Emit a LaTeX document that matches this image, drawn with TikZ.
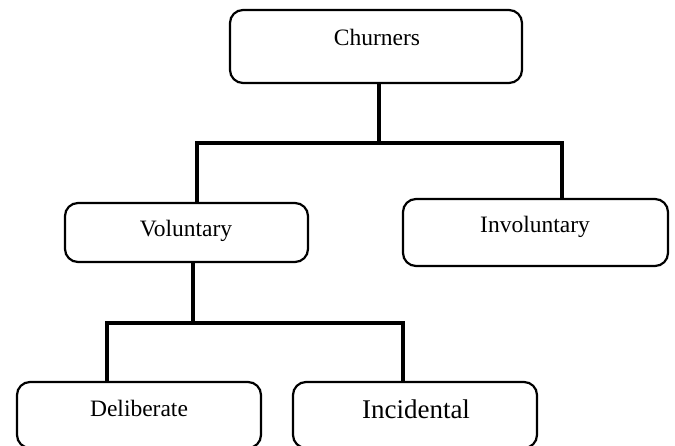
\documentclass[tikz,border=0pt]{standalone}
\usepackage{fontspec}
\setmainfont{Liberation Serif}
\begin{document}
\begin{tikzpicture}[x=1pt,y=-1pt,
  box/.style={draw=black,line width=2.2pt,rounded corners=13pt,rectangle,inner sep=0pt,fill=white},
  lbl/.style={anchor=base,inner sep=0pt,font=\fontsize{23.5}{28}\selectfont},
  conn/.style={line width=3.6pt,line join=miter}]
\useasboundingbox (0,0) rectangle (675,446);
\node[box,minimum width=292pt,minimum height=73pt] (ch) at (376,46.5) {};
\node[box,minimum width=243pt,minimum height=59pt] (vol) at (186.5,232.5) {};
\node[box,minimum width=265pt,minimum height=67pt] (inv) at (535.5,232.5) {};
\node[box,minimum width=244pt,minimum height=66pt] (del) at (139,415) {};
\node[box,minimum width=244pt,minimum height=66pt] (inc) at (415,415) {};
\node[lbl] (chT) at (377,46) {Churners};
\node[lbl] (volT) at (186,237) {Voluntary};
\node[lbl] (invT) at (535,233) {Involuntary};
\node[lbl] (delT) at (139,416) {Deliberate};
\node[lbl,font=\fontsize{27}{32}\selectfont] (incT) at (416,418) {Incidental};
\coordinate (j1) at (379,143);
\coordinate (l1) at (197,143);
\coordinate (r1) at (562,143);
\coordinate (j2) at (193,323);
\coordinate (l2) at (107,323);
\coordinate (r2) at (403,323);
\draw[conn] (ch.south -| j1) -- (j1);
\draw[conn] (vol.north -| l1) -- (l1) -- (r1) -- (inv.north -| r1);
\draw[conn] (vol.south -| j2) -- (j2);
\draw[conn] (del.north -| l2) -- (l2) -- (r2) -- (inc.north -| r2);
\end{tikzpicture}
\end{document}
